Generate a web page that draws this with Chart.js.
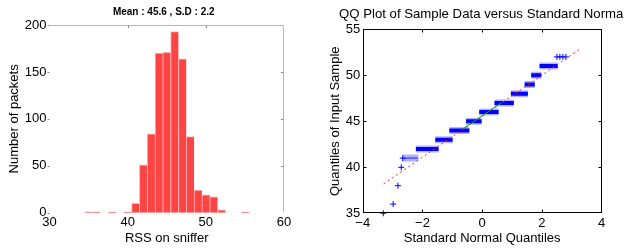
<!DOCTYPE html>
<html>
<head>
<meta charset="utf-8">
<script src="https://cdn.jsdelivr.net/npm/chart.js@4"></script>
<style>
  body { margin: 0; background: #fff; }
  #wrap { position: relative; width: 624px; height: 249px; overflow: hidden; }
  canvas { position: absolute; top: 0; }
  #histC { left: 0; }
  #qqC { left: 300px; }
</style>
</head>
<body>
<div id="wrap">
  <canvas id="histC" width="300" height="249"></canvas>
  <canvas id="qqC" width="324" height="249"></canvas>
</div>
<script>
// histogram: RSS bins (1 dB wide) and packet counts
const rssBins   = [35, 36, 37, 38, 39, 40, 41, 42, 43, 44, 45, 46, 47, 48, 49, 50, 51, 52, 53, 54, 55];
const rssCounts = [1, 1, 0, 1, 0, 1, 10, 51, 84, 170, 171, 193, 164, 81, 24, 19, 17, 3, 0, 0, 1];

// QQ plot: runs of equal sample values (value, first and last normal quantile)
const runValues = [41, 42, 43, 44, 45, 46, 47, 48, 49, 50, 51];
const runStart  = [-2.66, -2.22, -1.57, -1.10, -0.54, -0.10, 0.41, 0.96, 1.42, 1.64, 1.92];
const runEnd    = [-2.14, -1.46, -0.99, -0.43, -0.02, 0.55, 1.06, 1.53, 1.76, 1.98, 2.53];
// isolated samples
const loneX = [-3.31, -2.98, -2.82, -2.71, -2.66, 2.50, 2.60, 2.70, 2.80];
const loneY = [35, 36, 38, 40, 41, 52, 52, 52, 52];
// reference lines
const fitX  = [-3.30, 3.25];
const fitY  = [38.2, 52.8];
const iqrX  = [-0.68, 0.68];
const iqrY  = [44.1, 47.1];

const FONT = "'Liberation Sans', Arial, Helvetica, sans-serif";
const minus = v => (v < 0 ? '\u2212' + Math.abs(v) : String(v));
const sparseRun = 41; // this run is drawn lighter, the crosses are spread out

// left/bottom-less frame for the histogram, MATLAB style ticks
const histFrame = {
  id: 'histFrame',
  afterDraw(chart) {
    const { ctx, chartArea: a, scales } = chart;
    const L = Math.round(a.left) - 0.5, R = Math.round(a.right) - 0.5;
    const T = Math.round(a.top) + 0.5, B = Math.round(a.bottom) - 0.5;
    ctx.save();
    ctx.lineWidth = 1;
    ctx.strokeStyle = '#b8b8b8';
    ctx.beginPath();
    ctx.moveTo(L, T); ctx.lineTo(R, T); ctx.lineTo(R, B);
    ctx.stroke();
    ctx.strokeStyle = '#8a8a8a';
    ctx.beginPath();
    scales.x.ticks.forEach(t => {
      const x = Math.round(scales.x.getPixelForValue(t.value)) + 0.5;
      if (x > L + 2 && x < R - 2) { ctx.moveTo(x, T); ctx.lineTo(x, T + 2.5); }
    });
    scales.y.ticks.forEach(t => {
      const y = Math.round(scales.y.getPixelForValue(t.value)) + 0.5;
      ctx.moveTo(L - 2, y); ctx.lineTo(L, y);
      if (y > T + 2 && y < B - 2) { ctx.moveTo(R, y); ctx.lineTo(R - 2.5, y); }
    });
    ctx.stroke();
    ctx.fillStyle = '#000';
    ctx.font = 'bold 10px ' + FONT;
    ctx.textAlign = 'center';
    ctx.textBaseline = 'middle';
    ctx.fillText('Mean : 45.6 , S.D : 2.2', (a.left + a.right) / 2 - 3, 12);
    ctx.restore();
  }
};

// full black box with inward ticks for the QQ plot
const qqFrame = {
  id: 'qqFrame',
  afterDraw(chart) {
    const { ctx, chartArea: a, scales } = chart;
    const L = Math.round(a.left) + 0.5, R = Math.round(a.right) - 0.5;
    const T = Math.round(a.top) + 0.5, B = Math.round(a.bottom) - 0.5;
    ctx.save();
    ctx.lineWidth = 1;
    ctx.strokeStyle = '#000';
    ctx.strokeRect(L, T, R - L, B - T);
    ctx.beginPath();
    scales.x.ticks.forEach(t => {
      const x = Math.round(scales.x.getPixelForValue(t.value)) + 0.5;
      if (x > L + 2 && x < R - 2) {
        ctx.moveTo(x, T); ctx.lineTo(x, T + 3);
        ctx.moveTo(x, B); ctx.lineTo(x, B - 3);
      }
    });
    scales.y.ticks.forEach(t => {
      const y = Math.round(scales.y.getPixelForValue(t.value)) + 0.5;
      if (y > T + 2 && y < B - 2) {
        ctx.moveTo(L, y); ctx.lineTo(L + 3, y);
        ctx.moveTo(R, y); ctx.lineTo(R - 3, y);
      }
    });
    ctx.stroke();
    ctx.fillStyle = '#000';
    ctx.font = '13.2px ' + FONT;
    ctx.textAlign = 'left';
    ctx.textBaseline = 'middle';
    ctx.fillText('QQ Plot of Sample Data versus Standard Normal', 39, 14);
    ctx.restore();
  }
};

Chart.defaults.font.family = FONT;
Chart.defaults.font.size = 13;
Chart.defaults.color = '#000';

function axisCommon() {
  return {
    grid: { display: false, drawTicks: false },
    border: { display: false },
  };
}

// ---- histogram ----
new Chart(document.getElementById('histC'), {
  type: 'bar',
  data: {
    datasets: [{
      data: rssBins.map((b, i) => ({ x: b, y: rssCounts[i] })),
      backgroundColor: '#ff4444',
      borderColor: '#ffb4b4',
      borderWidth: { top: 1, left: 1, right: 0, bottom: 0 },
      borderSkipped: 'start',
      barPercentage: 1,
      categoryPercentage: 1,
    }],
  },
  options: {
    responsive: false,
    animation: false,
    devicePixelRatio: 1,
    layout: { padding: { top: 25, right: 16, bottom: 0, left: 0 } },
    plugins: { legend: { display: false }, tooltip: { enabled: false } },
    scales: {
      x: {
        type: 'linear', min: 30, max: 60, offset: false,
        ...axisCommon(),
        ticks: { stepSize: 10, autoSkip: false, maxRotation: 0, padding: 2 },
        title: { display: true, text: 'RSS on sniffer', padding: { top: 0, bottom: 3 } },
        afterFit: s => { s.height = 36.3; },
      },
      y: {
        min: 0, max: 200,
        ...axisCommon(),
        ticks: { stepSize: 50, autoSkip: false, padding: 3 },
        title: { display: true, text: 'Number of packets', padding: { top: 6.5, bottom: 0 } },
        afterFit: s => { s.width = 49.5; },
      },
    },
  },
  plugins: [histFrame],
});

// ---- QQ plot ----
const runData = [];
runValues.forEach((v, i) => {
  runData.push({ x: runStart[i], y: v }, { x: runEnd[i], y: v }, { x: runEnd[i], y: null });
});
const isSparse = c => c.p0.parsed.y === sparseRun;

new Chart(document.getElementById('qqC'), {
  type: 'scatter',
  data: {
    datasets: [
      {
        label: 'iqr',
        data: iqrX.map((x, i) => ({ x, y: iqrY[i] })),
        showLine: true, borderColor: '#00a000', borderWidth: 1, pointRadius: 0,
      },
      {
        label: 'fit',
        data: fitX.map((x, i) => ({ x, y: fitY[i] })),
        showLine: true, borderColor: '#ff2020', borderWidth: 1, borderDash: [2, 3], pointRadius: 0,
      },
      {
        label: 'lone',
        data: loneX.map((x, i) => ({ x, y: loneY[i] })),
        pointStyle: 'cross', pointRadius: 3, borderColor: '#0000ff', borderWidth: 1,
        backgroundColor: '#0000ff', clip: false,
      },
      {
        label: 'runs',
        data: runData,
        showLine: true, spanGaps: false, borderColor: '#0000ff', borderWidth: 4,
        borderCapStyle: 'butt', pointRadius: 0,
        segment: {
          borderWidth: c => (isSparse(c) ? 1 : 4),
          borderColor: c => (isSparse(c) ? '#2020ff' : '#0000ff'),
        },
      },
      {
        label: 'runs halo',
        data: runData,
        showLine: true, spanGaps: false, borderColor: 'rgba(40,40,255,0.35)', borderWidth: 7,
        borderCapStyle: 'butt', pointRadius: 0,
        segment: {
          borderColor: c => (isSparse(c) ? 'rgba(60,60,255,0.4)' : 'rgba(40,40,255,0.35)'),
        },
      },
    ],
  },
  options: {
    responsive: false,
    animation: false,
    devicePixelRatio: 1,
    layout: { padding: { top: 29.3, right: 22.3, bottom: 0, left: 0 } },
    plugins: { legend: { display: false }, tooltip: { enabled: false } },
    scales: {
      x: {
        type: 'linear', min: -4, max: 4,
        ...axisCommon(),
        ticks: { stepSize: 2, autoSkip: false, maxRotation: 0, padding: 2, callback: minus },
        title: { display: true, text: 'Standard Normal Quantiles', padding: { top: 0, bottom: 3 } },
        afterFit: s => { s.height = 35.7; },
      },
      y: {
        min: 35, max: 55,
        ...axisCommon(),
        ticks: { stepSize: 5, autoSkip: false, padding: 2.5 },
        title: { display: true, text: 'Quantiles of Input Sample', padding: { top: 28, bottom: 0 } },
        afterFit: s => { s.width = 62.7; },
      },
    },
  },
  plugins: [qqFrame],
});
</script>
</body>
</html>
